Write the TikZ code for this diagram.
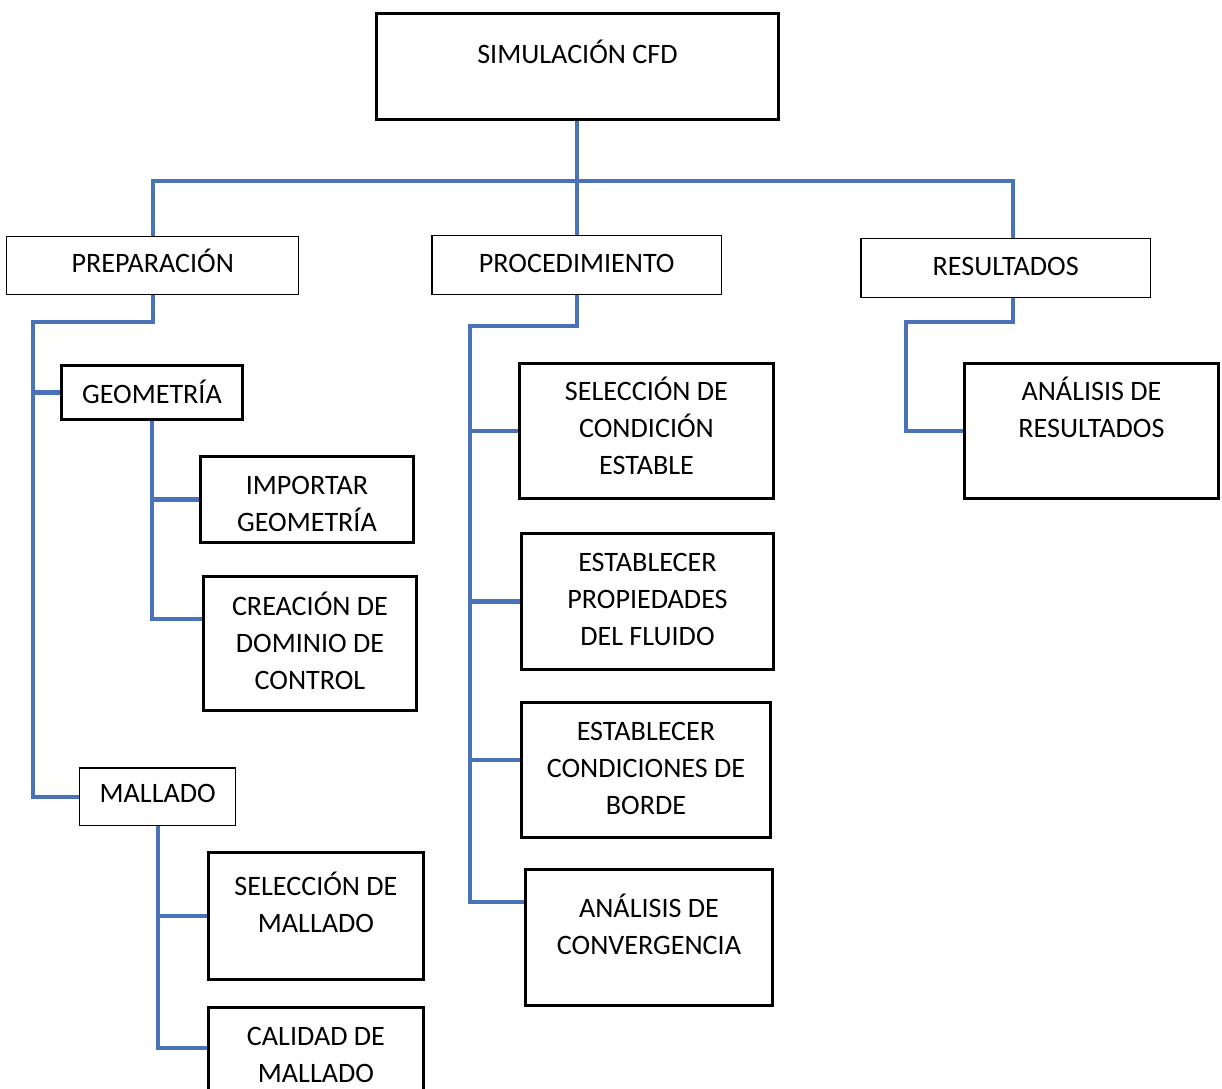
\documentclass[tikz,border=0pt]{standalone}
\usepackage{fontspec}
\setmainfont{Carlito}
\usepackage{tikz}
\usetikzlibrary{calc}
\definecolor{linkblue}{HTML}{4A72B8}
\newcommand{\boxtext}[1]{\begin{tabular}[t]{@{}c@{}}#1\end{tabular}}
\tikzset{
  box/.style={draw, line width=0.85pt, inner sep=0pt, anchor=north west,
    font=\fontsize{16}{21}\selectfont},
  bbox/.style={box, line width=1.7pt},
  link/.style={draw=linkblue, line width=2.3pt}
}

\begin{document}
\begin{tikzpicture}[x=0.02cm, y=-0.02cm]
    \fill[white] (0,0) rectangle (1222,1088);
    \useasboundingbox (0,0) rectangle (1222,1088);
    % top level
    \node[bbox, minimum width=8.04cm, text height=1cm, text depth=1.12cm] (sim) at (375,12) {\boxtext{SIMULACIÓN CFD}};
    \node[box, minimum width=5.84cm, text height=0.72cm, text depth=0.44cm] (prep) at (6,236) {\boxtext{PREPARACIÓN}};
    \node[box, minimum width=5.8cm, text height=0.74cm, text depth=0.44cm] (proc) at (431,235) {\boxtext{PROCEDIMIENTO}};
    \node[box, minimum width=5.8cm, text height=0.74cm, text depth=0.44cm] (res) at (860,238) {\boxtext{RESULTADOS}};
    % preparacion
    \node[bbox, minimum width=3.62cm, text height=0.76cm, text depth=0.32cm] (geo) at (60,364) {\boxtext{GEOMETRÍA}};
    \node[bbox, minimum width=4.26cm, text height=0.76cm, text depth=0.96cm] (imp) at (199,455) {\boxtext{IMPORTAR\\GEOMETRÍA}};
    \node[bbox, minimum width=4.26cm, text height=0.78cm, text depth=1.9cm] (crea) at (202,575) {\boxtext{CREACIÓN DE\\DOMINIO DE\\CONTROL}};
    \node[box, minimum width=3.12cm, text height=0.7cm, text depth=0.46cm] (mall) at (79,767) {\boxtext{MALLADO}};
    \node[bbox, minimum width=4.3cm, text height=0.86cm, text depth=1.68cm] (selm) at (207,851) {\boxtext{SELECCIÓN DE\\MALLADO}};
    \node[bbox, minimum width=4.3cm, text height=0.76cm, text depth=1.72cm] (cal) at (207,1006) {\boxtext{CALIDAD DE\\MALLADO}};
    % procedimiento
    \node[bbox, minimum width=5.08cm, text height=0.74cm, text depth=1.96cm] (sce) at (518,362) {\boxtext{SELECCIÓN DE\\CONDICIÓN\\ESTABLE}};
    \node[bbox, minimum width=5.04cm, text height=0.76cm, text depth=1.96cm] (epf) at (520,532) {\boxtext{ESTABLECER\\PROPIEDADES\\DEL FLUIDO}};
    \node[bbox, minimum width=4.98cm, text height=0.76cm, text depth=1.94cm] (ecb) at (520,701) {\boxtext{ESTABLECER\\CONDICIONES DE\\BORDE}};
    \node[bbox, minimum width=4.94cm, text height=0.96cm, text depth=1.76cm] (anc) at (524,868) {\boxtext{ANÁLISIS DE\\CONVERGENCIA}};
    % resultados
    \node[bbox, minimum width=5.08cm, text height=0.74cm, text depth=1.96cm] (anr) at (963,362) {\boxtext{ANÁLISIS DE\\RESULTADOS}};

    % junction points
    \coordinate (hub) at (578,181);
    \coordinate (prepbus) at (33,322);
    \coordinate (procbus) at (470,326);
    \coordinate (resbus) at (906,322);
    \coordinate (creaj) at (202,619);
    \coordinate (calj) at (207,1048);
    \coordinate (ecbj) at (520,760);
    \coordinate (ancj) at (524,902);

    \draw[link] (sim.south) -- (sim.south |- proc.north);
    \draw[link] (prep.north) |- (hub) -| ([xshift=0.14cm]res.north);
    \draw[link] (prep.south) |- (prepbus) |- (mall.west);
    \draw[link] (prepbus) |- (geo.west);
    \draw[link] (geo.south) |- (creaj);
    \draw[link] (geo.south) |- (imp.west);
    \draw[link] (mall.south) |- (calj);
    \draw[link] (mall.south) |- (selm.west);
    \draw[link] (proc.south) |- (procbus) |- (ancj);
    \draw[link] (procbus) |- (sce.west);
    \draw[link] (procbus) |- (epf.west);
    \draw[link] (procbus) |- (ecbj);
    \draw[link] ([xshift=0.14cm]res.south) |- (resbus) |- (anr.west);
\end{tikzpicture}
\end{document}
